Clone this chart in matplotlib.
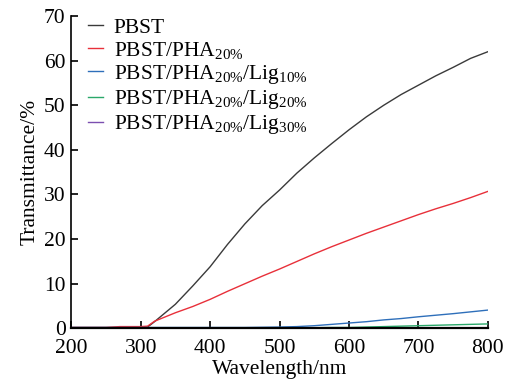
import matplotlib
matplotlib.use("Agg")
import matplotlib.pyplot as plt
import numpy as np

plt.rcParams['font.family'] = ['Liberation Serif', 'DejaVu Serif']
plt.rcParams['mathtext.fontset'] = 'custom'
plt.rcParams['mathtext.rm'] = 'Liberation Serif'
plt.rcParams['mathtext.it'] = 'Liberation Serif'

# Data
wl = [200, 250, 270, 300, 310, 320, 350, 375, 400, 425, 450, 475, 500, 525, 550,
      575, 600, 625, 650, 675, 700, 725, 750, 775, 800]
pbst = [0.2, 0.2, 0.2, 0.2, 0.3, 1.5, 5.4, 9.5, 13.8, 18.8, 23.4, 27.5, 31.0, 34.8, 38.2,
        41.4, 44.5, 47.4, 50.0, 52.4, 54.5, 56.6, 58.5, 60.5, 62.0]
pha = [0.2, 0.2, 0.4, 0.4, 0.5, 1.6, 3.5, 4.9, 6.5, 8.3, 10.0, 11.7, 13.3, 15.0, 16.7,
       18.3, 19.8, 21.3, 22.7, 24.1, 25.5, 26.8, 28.0, 29.3, 30.7]
lig10 = [0.2, 0.2, 0.2, 0.2, 0.2, 0.2, 0.2, 0.2, 0.2, 0.2, 0.2, 0.25, 0.3, 0.4, 0.6,
         0.9, 1.2, 1.5, 1.9, 2.2, 2.6, 2.95, 3.3, 3.7, 4.1]
lig20 = [0.1, 0.1, 0.1, 0.1, 0.1, 0.1, 0.1, 0.1, 0.1, 0.1, 0.1, 0.1, 0.1, 0.1, 0.15,
         0.2, 0.2, 0.3, 0.4, 0.5, 0.6, 0.7, 0.8, 0.9, 1.0]
lig30 = [0.05] * len(wl)

series = [
    ('PBST', pbst, '#3a3a3a'),
    (r'PBST/PHA$_{\mathregular{20\%}}$', pha, '#e8303a'),
    (r'PBST/PHA$_{\mathregular{20\%}}$/Lig$_{\mathregular{10\%}}$', lig10, '#2e6fba'),
    (r'PBST/PHA$_{\mathregular{20\%}}$/Lig$_{\mathregular{20\%}}$', lig20, '#2aa86a'),
    (r'PBST/PHA$_{\mathregular{20\%}}$/Lig$_{\mathregular{30\%}}$', lig30, '#7b4fb0'),
]

fig = plt.figure(figsize=(5.12, 3.9), dpi=100)
ax = fig.add_axes([0.139, 0.158, 0.814, 0.801])
for label, y, c in series:
    ax.plot(wl, y, color=c, lw=1.0, label=label)

ax.set_xlim(200, 800)
ax.set_ylim(0, 70)
ax.set_xticks([200, 300, 400, 500, 600, 700, 800])
ax.set_yticks([0, 10, 20, 30, 40, 50, 60, 70])
ax.spines['top'].set_visible(False)
ax.spines['right'].set_visible(False)
ax.spines['left'].set_linewidth(1.2)
ax.spines['bottom'].set_linewidth(1.6)
ax.tick_params(direction='in', length=5, width=1.2, labelsize=15.5)
ax.tick_params(axis='x', pad=8)
ax.tick_params(axis='y', pad=4)
ax.set_xlabel('Wavelength/nm', fontsize=15.5, labelpad=1)
ax.set_ylabel('Transmittance/%', fontsize=15.5, labelpad=3)

leg = ax.legend(loc='upper left', frameon=False, fontsize=15.5, handlelength=0.7,
                handletextpad=0.5, labelspacing=0.1, borderaxespad=0.0,
                borderpad=0.0, bbox_to_anchor=(0.04, 0.995))

fig.savefig('out.png', dpi=100)
